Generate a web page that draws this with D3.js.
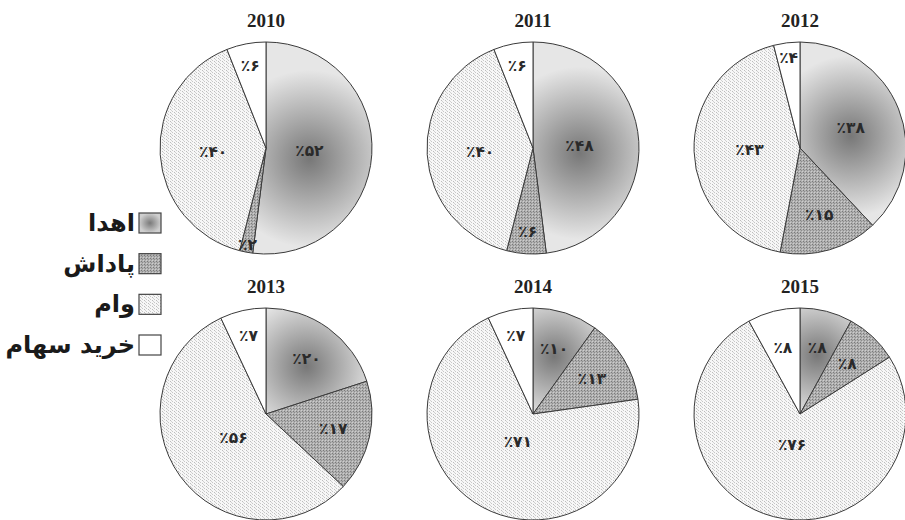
<!DOCTYPE html>
<html>
<head>
<meta charset="utf-8">
<script src="https://cdn.jsdelivr.net/npm/d3@7"></script>
<style>
  html, body { margin: 0; padding: 0; background: #fff; }
  svg { display: block; }
</style>
</head>
<body>
<script>
// ---- data ----
const years = ["2010", "2011", "2012", "2013", "2014", "2015"];
const categories = ["اهدا", "پاداش", "وام", "خرید سهام"];
const donation = [52, 48, 38, 20, 10, 8];
const reward   = [2, 6, 15, 17, 13, 8];
const loan     = [40, 40, 43, 56, 71, 76];
const shares   = [6, 6, 4, 7, 7, 8];

const W = 905, H = 520, R = 106;
const svg = d3.select("body").append("svg").attr("width", W).attr("height", H);
const defs = svg.append("defs");

// patterns
const pReward = defs.append("pattern").attr("id", "pReward")
  .attr("patternUnits", "userSpaceOnUse").attr("width", 3).attr("height", 3);
pReward.append("rect").attr("width", 3).attr("height", 3).attr("fill", "#b0b0b0");
pReward.append("rect").attr("x", 0).attr("y", 0).attr("width", 1).attr("height", 1).attr("fill", "#7a7a7a");
pReward.append("rect").attr("x", 1).attr("y", 1).attr("width", 1).attr("height", 1).attr("fill", "#8c8c8c");
pReward.append("rect").attr("x", 2).attr("y", 2).attr("width", 1).attr("height", 1).attr("fill", "#cdcdcd");

const pLoan = defs.append("pattern").attr("id", "pLoan")
  .attr("patternUnits", "userSpaceOnUse").attr("width", 4).attr("height", 3);
pLoan.append("rect").attr("width", 4).attr("height", 3).attr("fill", "#f7f7f7");
pLoan.append("rect").attr("x", 0).attr("y", 0).attr("width", 1).attr("height", 1).attr("fill", "#bdbdbd");
pLoan.append("rect").attr("x", 1).attr("y", 1).attr("width", 1).attr("height", 1).attr("fill", "#d2d2d2");
pLoan.append("rect").attr("x", 2).attr("y", 2).attr("width", 1).attr("height", 1).attr("fill", "#c8c8c8");

const legendGrad = defs.append("radialGradient").attr("id", "gLegend");
legendGrad.append("stop").attr("offset", "0%").attr("stop-color", "#7a7a7a");
legendGrad.append("stop").attr("offset", "100%").attr("stop-color", "#cfcfcf");

const faDigits = "۰۱۲۳۴۵۶۷۸۹";
const toFa = n => String(n).replace(/\d/g, d => faDigits[+d]);

const colX = d3.scalePoint().domain([0, 1, 2]).range([266, 800]);
const rowY = d3.scalePoint().domain([0, 1]).range([148, 414]);

const pie = d3.pie().sort(null).value(d => d.v);
const arc = d3.arc().innerRadius(0).outerRadius(R);

function labelFrac(p) {
  if (p < 8) return 0.93 - 0.035 * (p - 2);
  if (p <= 20) return 0.65;
  return Math.max(0.3, 0.65 - 0.0075 * (p - 20));
}

years.forEach((yr, i) => {
  const cx = colX(i % 3), cy = rowY(Math.floor(i / 3));
  const vals = [donation[i], reward[i], loan[i], shares[i]].map((v, k) => ({ v, k }));
  const arcs = pie(vals);
  const g = svg.append("g").attr("transform", `translate(${cx},${cy})`);

  // gradient for donation slice centred near its label (local coords of g)
  const a0 = arcs[0];
  const mid0 = (a0.startAngle + a0.endAngle) / 2;
  const f0 = labelFrac(a0.data.v) * R;
  const share0 = (a0.endAngle - a0.startAngle) / (2 * Math.PI);
  const gid = "gDon" + i;
  const grad = defs.append("radialGradient").attr("id", gid)
    .attr("gradientUnits", "userSpaceOnUse")
    .attr("cx", f0 * Math.sin(mid0)).attr("cy", -f0 * Math.cos(mid0) + 8)
    .attr("r", R * (0.55 + 0.55 * share0));
  grad.append("stop").attr("offset", "0%").attr("stop-color", "#777777");
  grad.append("stop").attr("offset", "100%").attr("stop-color", "#e6e6e6");

  const fills = ["url(#" + gid + ")", "url(#pReward)", "url(#pLoan)", "#ffffff"];

  g.selectAll("path.slice").data(arcs).enter().append("path")
    .attr("class", "slice")
    .attr("d", arc)
    .attr("fill", d => fills[d.data.k])
    .attr("stroke", "#3a3a3a").attr("stroke-width", 1).attr("stroke-linejoin", "round");

  g.selectAll("text.lbl").data(arcs).enter().append("text")
    .attr("class", "lbl")
    .attr("x", d => { const m = (d.startAngle + d.endAngle) / 2; return labelFrac(d.data.v) * R * Math.sin(m); })
    .attr("y", d => { const m = (d.startAngle + d.endAngle) / 2; return -labelFrac(d.data.v) * R * Math.cos(m); })
    .attr("dy", "0.35em")
    .attr("text-anchor", "middle")
    .attr("direction", "ltr")
    .attr("font-family", "DejaVu Sans, sans-serif")
    .attr("font-weight", "bold")
    .attr("font-size", 15.5)
    .attr("fill", "#2a2a2a")
    .text(d => "٪" + toFa(d.data.v));

  svg.append("text")
    .attr("x", cx).attr("y", cy - R - 15)
    .attr("text-anchor", "middle")
    .attr("font-family", "Liberation Serif, serif")
    .attr("font-weight", "bold")
    .attr("font-size", 19)
    .attr("fill", "#222")
    .text(yr);
});

// legend
const legFills = ["url(#gLegend)", "url(#pReward)", "url(#pLoan)", "#ffffff"];
const legY = d3.scalePoint().domain(d3.range(categories.length)).range([213, 335]);
const leg = svg.append("g");
categories.forEach((c, k) => {
  leg.append("rect")
    .attr("x", 139).attr("y", legY(k)).attr("width", 22).attr("height", 20)
    .attr("fill", legFills[k]).attr("stroke", "#444").attr("stroke-width", 1.2);
  leg.append("text")
    .attr("x", 135).attr("y", legY(k) + 18)
    .attr("text-anchor", "end")
    .attr("font-family", "DejaVu Sans, sans-serif")
    .attr("font-weight", "bold")
    .attr("font-size", 24)
    .attr("fill", "#1a1a1a")
    .text(c);
});
</script>
</body>
</html>
